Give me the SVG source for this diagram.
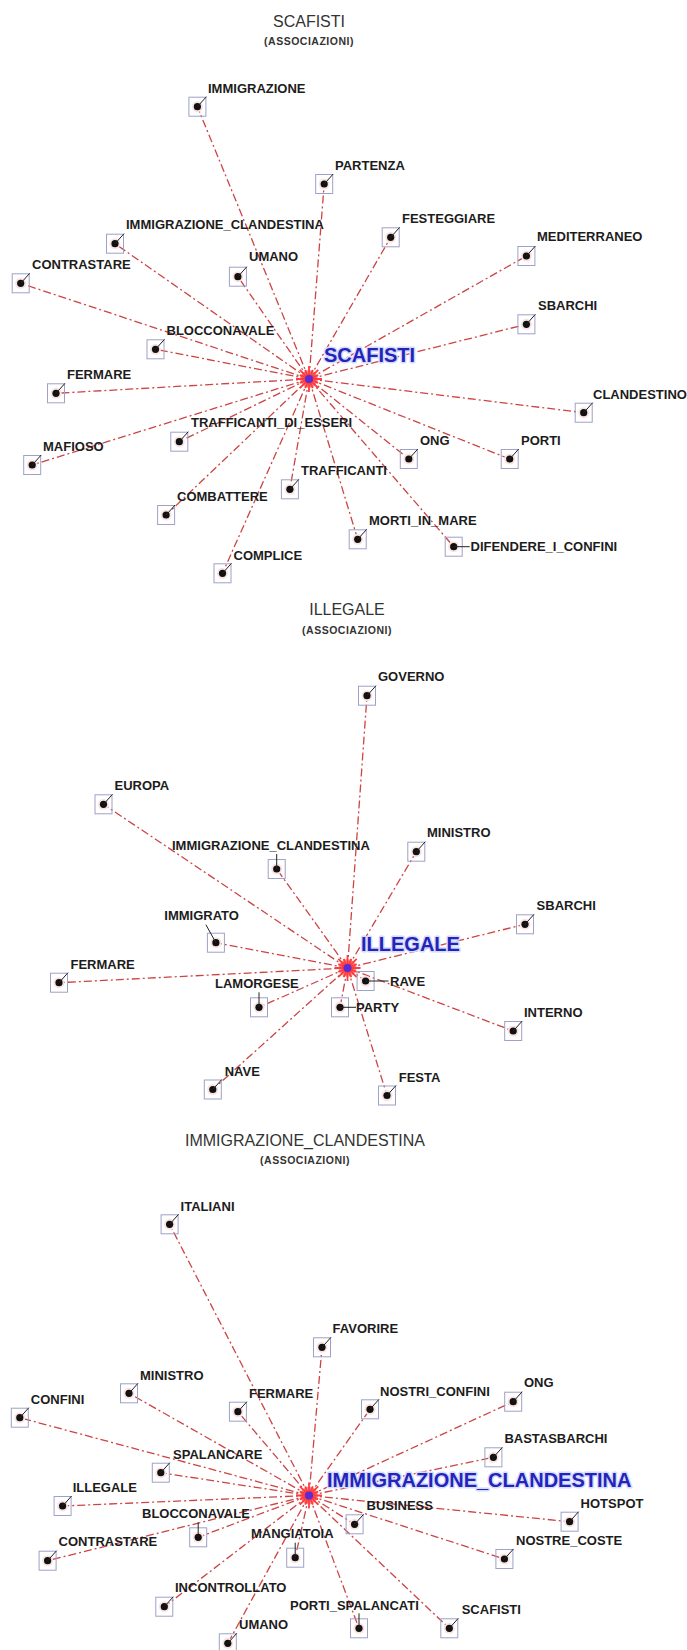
<svg xmlns="http://www.w3.org/2000/svg" width="687" height="1650" viewBox="0 0 687 1650">
  <style>
    .bg { fill: #ffffff; }
    .title { font-family: "Liberation Sans", Arial, sans-serif; font-size: 16px; fill: #333333; text-anchor: middle; }
    .sub { font-family: "Liberation Sans", Arial, sans-serif; font-size: 10.5px; font-weight: bold; letter-spacing: 0.5px; fill: #333333; text-anchor: middle; }
    .lb { font-family: "Liberation Sans", Arial, sans-serif; font-size: 13px; font-weight: bold; fill: #1c1c1c; }
    .hub-label { font-family: "Liberation Sans", Arial, sans-serif; font-size: 20px; font-weight: bold; fill: #2424b8; stroke: #d6dcff; stroke-width: 3px; paint-order: stroke; stroke-linejoin: round; }
    .edge { stroke: #cc4444; stroke-width: 1.3; stroke-dasharray: 8 3 2 3; fill: none; }
    .box { fill: none; stroke: #9ea2c6; stroke-width: 1; }
    .halo { fill: #fbe2e2; }
    .dot { fill: #111111; }
    .lead { stroke: #222222; stroke-width: 1; fill: none; }
  </style>
  <defs>
    <g id="nb">
      <rect class="box" x="-8.5" y="-9.5" width="17" height="19"/>
      <circle class="halo" r="5.5"/>
      <circle class="dot" r="3.6"/>
    </g>
    <g id="n-ur"><use href="#nb"/><path class="lead" d="M0 0L9-10"/></g>
    <g id="n-up"><use href="#nb"/><path class="lead" d="M0 0V-15"/></g>
    <g id="n-rt"><use href="#nb"/><path class="lead" d="M0 0H16"/></g>
    <g id="n-rt2"><use href="#nb"/><path class="lead" d="M0 0H23"/></g>
    <g id="n-ul"><use href="#nb"/><path class="lead" d="M0 0L-10-18"/></g>
    <g id="hub">
      <circle r="9" fill="#ff7070" opacity="0.75"/>
      <path d="M-13 0H13M0-13V13M-9.2-9.2L9.2 9.2M-9.2 9.2L9.2-9.2M-9.2-3.8L9.2 3.8M-9.2 3.8L9.2-3.8M-3.8-9.2L3.8 9.2M-3.8 9.2L3.8-9.2" stroke="#ff3b3b" stroke-width="1.8" fill="none"/>
      <circle r="4" fill="#5a2bd6"/>
    </g>
  </defs>

  <rect class="bg" width="687" height="1650"/>

  <!-- ===== Graph 1: SCAFISTI ===== -->
  <g id="title-scafisti">
    <text class="title" x="309" y="27">SCAFISTI</text>
    <text class="sub" x="309" y="45">(ASSOCIAZIONI)</text>
  </g>
  <g id="connectors-scafisti">
    <line class="edge" x1="309" y1="379" x2="197.4" y2="106.7"/>
    <line class="edge" x1="309" y1="379" x2="324.2" y2="184"/>
    <line class="edge" x1="309" y1="379" x2="115" y2="243.7"/>
    <line class="edge" x1="309" y1="379" x2="390.7" y2="237.3"/>
    <line class="edge" x1="309" y1="379" x2="526.4" y2="256"/>
    <line class="edge" x1="309" y1="379" x2="237.9" y2="276.7"/>
    <line class="edge" x1="309" y1="379" x2="20.7" y2="283.3"/>
    <line class="edge" x1="309" y1="379" x2="526.4" y2="324.3"/>
    <line class="edge" x1="309" y1="379" x2="155.5" y2="349.3"/>
    <line class="edge" x1="309" y1="379" x2="56" y2="393.3"/>
    <line class="edge" x1="309" y1="379" x2="583.7" y2="412.7"/>
    <line class="edge" x1="309" y1="379" x2="179.3" y2="441.7"/>
    <line class="edge" x1="309" y1="379" x2="32.2" y2="465"/>
    <line class="edge" x1="309" y1="379" x2="408.8" y2="459"/>
    <line class="edge" x1="309" y1="379" x2="509.7" y2="459"/>
    <line class="edge" x1="309" y1="379" x2="289.9" y2="489.3"/>
    <line class="edge" x1="309" y1="379" x2="166.1" y2="515"/>
    <line class="edge" x1="309" y1="379" x2="357.7" y2="539.3"/>
    <line class="edge" x1="309" y1="379" x2="453.7" y2="546.7"/>
    <line class="edge" x1="309" y1="379" x2="222.5" y2="573.3"/>
  </g>
  <g id="s1-hub"><use href="#hub" x="309" y="379"/><text class="hub-label" x="324" y="362">SCAFISTI</text></g>
  <g id="s1-immigrazione"><use href="#n-ur" x="197.4" y="106.7"/><text class="lb" x="208" y="93">IMMIGRAZIONE</text></g>
  <g id="s1-partenza"><use href="#n-ur" x="324.2" y="184"/><text class="lb" x="335" y="170">PARTENZA</text></g>
  <g id="s1-immigrazione-clandestina"><use href="#n-ur" x="115" y="243.7"/><text class="lb" x="126" y="229">IMMIGRAZIONE_CLANDESTINA</text></g>
  <g id="s1-festeggiare"><use href="#n-ur" x="390.7" y="237.3"/><text class="lb" x="402" y="223">FESTEGGIARE</text></g>
  <g id="s1-mediterraneo"><use href="#n-ur" x="526.4" y="256"/><text class="lb" x="537" y="241">MEDITERRANEO</text></g>
  <g id="s1-umano"><use href="#n-ur" x="237.9" y="276.7"/><text class="lb" x="249" y="261">UMANO</text></g>
  <g id="s1-contrastare"><use href="#n-ur" x="20.7" y="283.3"/><text class="lb" x="32" y="269">CONTRASTARE</text></g>
  <g id="s1-sbarchi"><use href="#n-ur" x="526.4" y="324.3"/><text class="lb" x="538" y="310">SBARCHI</text></g>
  <g id="s1-blocconavale"><use href="#n-ur" x="155.5" y="349.3"/><text class="lb" x="166.5" y="334.5">BLOCCONAVALE</text></g>
  <g id="s1-fermare"><use href="#n-ur" x="56" y="393.3"/><text class="lb" x="67" y="379">FERMARE</text></g>
  <g id="s1-clandestino"><use href="#n-ur" x="583.7" y="412.7"/><text class="lb" x="593" y="398.5">CLANDESTINO</text></g>
  <g id="s1-trafficanti-di-esseri"><use href="#n-ur" x="179.3" y="441.7"/><text class="lb" x="191" y="427">TRAFFICANTI_DI_ESSERI</text></g>
  <g id="s1-mafioso"><use href="#n-ur" x="32.2" y="465"/><text class="lb" x="43" y="450.5">MAFIOSO</text></g>
  <g id="s1-ong"><use href="#n-ur" x="408.8" y="459"/><text class="lb" x="420" y="444.5">ONG</text></g>
  <g id="s1-porti"><use href="#n-ur" x="509.7" y="459"/><text class="lb" x="521" y="444.5">PORTI</text></g>
  <g id="s1-trafficanti"><use href="#n-ur" x="289.9" y="489.3"/><text class="lb" x="301" y="475">TRAFFICANTI</text></g>
  <g id="s1-combattere"><use href="#n-ur" x="166.1" y="515"/><text class="lb" x="177" y="501">COMBATTERE</text></g>
  <g id="s1-morti-in-mare"><use href="#n-ur" x="357.7" y="539.3"/><text class="lb" x="369" y="525">MORTI_IN_MARE</text></g>
  <g id="s1-difendere-i-confini"><use href="#n-rt" x="453.7" y="546.7"/><text class="lb" x="470.5" y="551">DIFENDERE_I_CONFINI</text></g>
  <g id="s1-complice"><use href="#n-ur" x="222.5" y="573.3"/><text class="lb" x="233.5" y="560">COMPLICE</text></g>

  <!-- ===== Graph 2: ILLEGALE ===== -->
  <g id="title-illegale">
    <text class="title" x="347" y="615">ILLEGALE</text>
    <text class="sub" x="347" y="634">(ASSOCIAZIONI)</text>
  </g>
  <g id="connectors-illegale">
    <line class="edge" x1="347.5" y1="968" x2="367" y2="695.7"/>
    <line class="edge" x1="347.5" y1="968" x2="103.5" y2="804.3"/>
    <line class="edge" x1="347.5" y1="968" x2="416.3" y2="851.7"/>
    <line class="edge" x1="347.5" y1="968" x2="276.7" y2="869"/>
    <line class="edge" x1="347.5" y1="968" x2="525" y2="924.3"/>
    <line class="edge" x1="347.5" y1="968" x2="215.9" y2="942.7"/>
    <line class="edge" x1="347.5" y1="968" x2="59" y2="982.7"/>
    <line class="edge" x1="347.5" y1="968" x2="365.6" y2="981"/>
    <line class="edge" x1="347.5" y1="968" x2="259" y2="1007.3"/>
    <line class="edge" x1="347.5" y1="968" x2="340" y2="1007.3"/>
    <line class="edge" x1="347.5" y1="968" x2="513.2" y2="1031"/>
    <line class="edge" x1="347.5" y1="968" x2="212.8" y2="1089.5"/>
    <line class="edge" x1="347.5" y1="968" x2="387" y2="1095.5"/>
  </g>
  <g id="s2-hub"><use href="#hub" x="347.5" y="968"/><text class="hub-label" x="361" y="950.5">ILLEGALE</text></g>
  <g id="s2-governo"><use href="#n-ur" x="367" y="695.7"/><text class="lb" x="378" y="681">GOVERNO</text></g>
  <g id="s2-europa"><use href="#n-ur" x="103.5" y="804.3"/><text class="lb" x="114.5" y="790">EUROPA</text></g>
  <g id="s2-ministro"><use href="#n-ur" x="416.3" y="851.7"/><text class="lb" x="427" y="837">MINISTRO</text></g>
  <g id="s2-immigrazione-clandestina"><use href="#n-up" x="276.7" y="869"/><text class="lb" x="172" y="849.5">IMMIGRAZIONE_CLANDESTINA</text></g>
  <g id="s2-sbarchi"><use href="#n-ur" x="525" y="924.3"/><text class="lb" x="536.6" y="910">SBARCHI</text></g>
  <g id="s2-immigrato"><use href="#n-ul" x="215.9" y="942.7"/><text class="lb" x="164.3" y="919.5">IMMIGRATO</text></g>
  <g id="s2-fermare"><use href="#n-ur" x="59" y="982.7"/><text class="lb" x="70.5" y="969">FERMARE</text></g>
  <g id="s2-rave"><use href="#n-rt2" x="365.6" y="981"/><text class="lb" x="390" y="985.5">RAVE</text></g>
  <g id="s2-lamorgese"><use href="#n-up" x="259" y="1007.3"/><text class="lb" x="215" y="988">LAMORGESE</text></g>
  <g id="s2-party"><use href="#n-rt" x="340" y="1007.3"/><text class="lb" x="356" y="1012">PARTY</text></g>
  <g id="s2-interno"><use href="#n-ur" x="513.2" y="1031"/><text class="lb" x="524" y="1017">INTERNO</text></g>
  <g id="s2-nave"><use href="#n-ur" x="212.8" y="1089.5"/><text class="lb" x="224.7" y="1076">NAVE</text></g>
  <g id="s2-festa"><use href="#n-ur" x="387" y="1095.5"/><text class="lb" x="398.7" y="1082">FESTA</text></g>

  <!-- ===== Graph 3: IMMIGRAZIONE_CLANDESTINA ===== -->
  <g id="title-immigrazione-clandestina">
    <text class="title" x="305" y="1146">IMMIGRAZIONE_CLANDESTINA</text>
    <text class="sub" x="305" y="1164">(ASSOCIAZIONI)</text>
  </g>
  <g id="connectors-immigrazione-clandestina">
    <line class="edge" x1="309" y1="1495.5" x2="169.6" y2="1224.3"/>
    <line class="edge" x1="309" y1="1495.5" x2="322" y2="1347.3"/>
    <line class="edge" x1="309" y1="1495.5" x2="129" y2="1393.3"/>
    <line class="edge" x1="309" y1="1495.5" x2="19.8" y2="1417.7"/>
    <line class="edge" x1="309" y1="1495.5" x2="237.9" y2="1411.7"/>
    <line class="edge" x1="309" y1="1495.5" x2="370" y2="1409.3"/>
    <line class="edge" x1="309" y1="1495.5" x2="513.2" y2="1401.7"/>
    <line class="edge" x1="309" y1="1495.5" x2="493.4" y2="1457.3"/>
    <line class="edge" x1="309" y1="1495.5" x2="160.8" y2="1472.7"/>
    <line class="edge" x1="309" y1="1495.5" x2="62.6" y2="1506"/>
    <line class="edge" x1="309" y1="1495.5" x2="354.6" y2="1524.3"/>
    <line class="edge" x1="309" y1="1495.5" x2="569.6" y2="1521.7"/>
    <line class="edge" x1="309" y1="1495.5" x2="198.2" y2="1537.3"/>
    <line class="edge" x1="309" y1="1495.5" x2="47.6" y2="1560.7"/>
    <line class="edge" x1="309" y1="1495.5" x2="295.2" y2="1557.7"/>
    <line class="edge" x1="309" y1="1495.5" x2="504.4" y2="1559"/>
    <line class="edge" x1="309" y1="1495.5" x2="164.3" y2="1606.7"/>
    <line class="edge" x1="309" y1="1495.5" x2="359" y2="1628.3"/>
    <line class="edge" x1="309" y1="1495.5" x2="449.3" y2="1628.3"/>
    <line class="edge" x1="309" y1="1495.5" x2="227.8" y2="1643.3"/>
  </g>
  <g id="s3-hub"><use href="#hub" x="309" y="1495.5"/><text class="hub-label" x="327" y="1487">IMMIGRAZIONE_CLANDESTINA</text></g>
  <g id="s3-italiani"><use href="#n-ur" x="169.6" y="1224.3"/><text class="lb" x="180.6" y="1210.5">ITALIANI</text></g>
  <g id="s3-favorire"><use href="#n-ur" x="322" y="1347.3"/><text class="lb" x="332.6" y="1333">FAVORIRE</text></g>
  <g id="s3-ministro"><use href="#n-ur" x="129" y="1393.3"/><text class="lb" x="140" y="1379.5">MINISTRO</text></g>
  <g id="s3-confini"><use href="#n-ur" x="19.8" y="1417.7"/><text class="lb" x="30.8" y="1404">CONFINI</text></g>
  <g id="s3-fermare"><use href="#n-ur" x="237.9" y="1411.7"/><text class="lb" x="249" y="1398">FERMARE</text></g>
  <g id="s3-nostri-confini"><use href="#n-ur" x="370" y="1409.3"/><text class="lb" x="380" y="1395.5">NOSTRI_CONFINI</text></g>
  <g id="s3-ong"><use href="#n-ur" x="513.2" y="1401.7"/><text class="lb" x="524" y="1387">ONG</text></g>
  <g id="s3-bastasbarchi"><use href="#n-ur" x="493.4" y="1457.3"/><text class="lb" x="504.4" y="1443">BASTASBARCHI</text></g>
  <g id="s3-spalancare"><use href="#n-ur" x="160.8" y="1472.7"/><text class="lb" x="173" y="1459">SPALANCARE</text></g>
  <g id="s3-illegale"><use href="#n-ur" x="62.6" y="1506"/><text class="lb" x="72.7" y="1492">ILLEGALE</text></g>
  <g id="s3-business"><use href="#n-ur" x="354.6" y="1524.3"/><text class="lb" x="366.5" y="1510">BUSINESS</text></g>
  <g id="s3-hotspot"><use href="#n-ur" x="569.6" y="1521.7"/><text class="lb" x="580.6" y="1508">HOTSPOT</text></g>
  <g id="s3-blocconavale"><use href="#n-up" x="198.2" y="1537.3"/><text class="lb" x="142" y="1518">BLOCCONAVALE</text></g>
  <g id="s3-contrastare"><use href="#n-ur" x="47.6" y="1560.7"/><text class="lb" x="58.6" y="1546">CONTRASTARE</text></g>
  <g id="s3-mangiatoia"><use href="#n-up" x="295.2" y="1557.7"/><text class="lb" x="251" y="1538">MANGIATOIA</text></g>
  <g id="s3-nostre-coste"><use href="#n-ur" x="504.4" y="1559"/><text class="lb" x="516" y="1544.5">NOSTRE_COSTE</text></g>
  <g id="s3-incontrollato"><use href="#n-ur" x="164.3" y="1606.7"/><text class="lb" x="175" y="1592">INCONTROLLATO</text></g>
  <g id="s3-porti-spalancati"><use href="#n-up" x="359" y="1628.3"/><text class="lb" x="290" y="1610">PORTI_SPALANCATI</text></g>
  <g id="s3-scafisti"><use href="#n-ur" x="449.3" y="1628.3"/><text class="lb" x="461.7" y="1614">SCAFISTI</text></g>
  <g id="s3-umano"><use href="#n-ur" x="227.8" y="1643.3"/><text class="lb" x="239" y="1629">UMANO</text></g>
</svg>
